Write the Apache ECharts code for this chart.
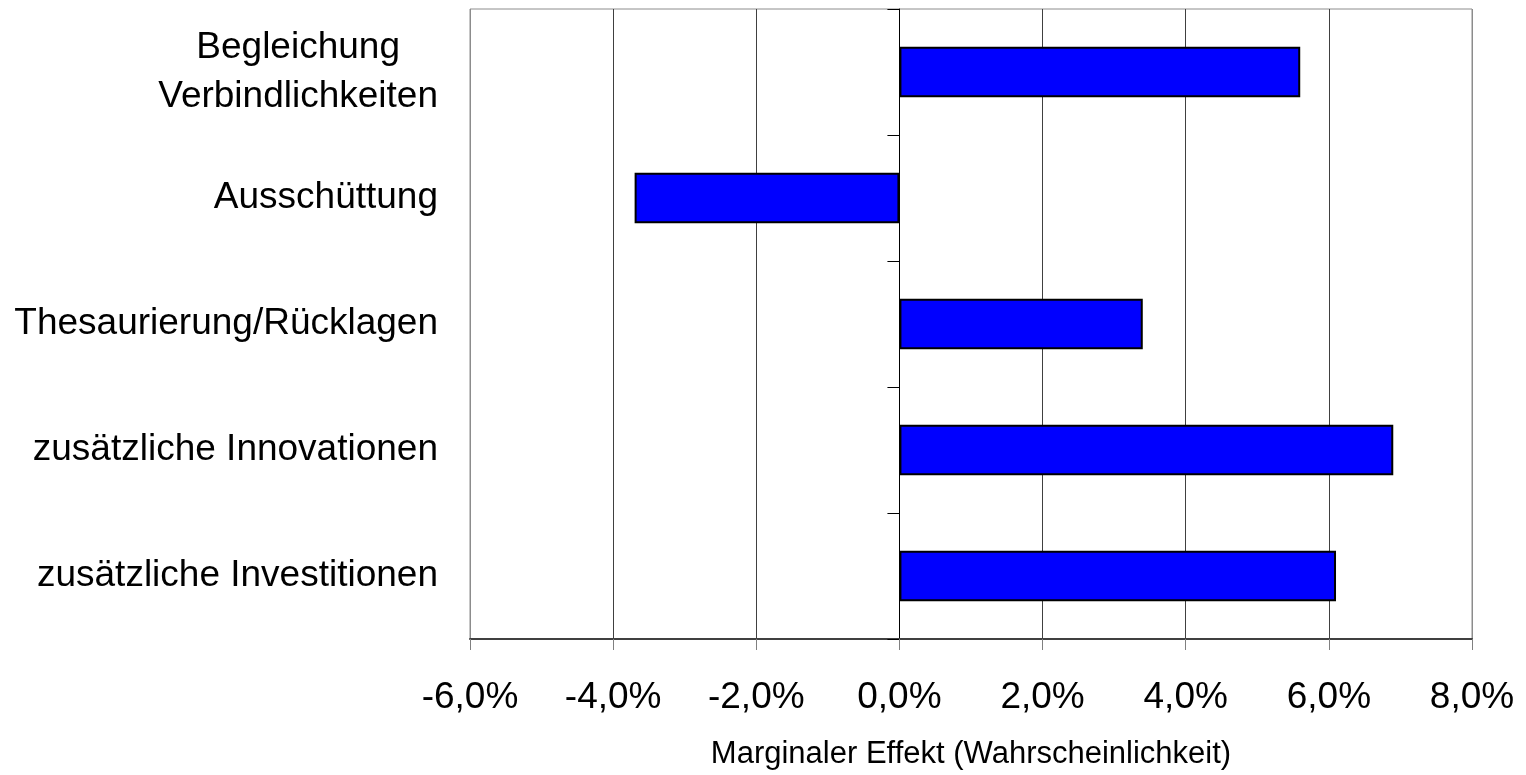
<!DOCTYPE html>
<html>
<head>
<meta charset="utf-8">
<script src="https://cdn.jsdelivr.net/npm/echarts@6/dist/echarts.min.js"></script>
<style>
  html, body { margin: 0; padding: 0; background: #fff; }
  #chart { width: 1526px; height: 775px; }
</style>
</head>
<body>
<div id="chart"></div>
<script>
// Categories, top to bottom
const categories = [
  'Begleichung\nVerbindlichkeiten',
  'Ausschüttung',
  'Thesaurierung/Rücklagen',
  'zusätzliche Innovationen',
  'zusätzliche Investitionen'
];
// Marginal effects (as fractions)
const values = [0.056, -0.037, 0.034, 0.069, 0.061];
// X axis range / ticks
const xMin = -0.06;
const xMax = 0.08;
const xStep = 0.02;
const axisTitle = 'Marginaler Effekt (Wahrscheinlichkeit)';

const FONT = "'Liberation Sans', Arial, sans-serif";

function pct(v) {
  let s = (v * 100).toFixed(1);
  if (s === '-0.0') s = '0.0';
  return s.replace('.', ',') + '%';
}

const chart = echarts.init(document.getElementById('chart'), null, { renderer: 'canvas' });

chart.setOption({
  animation: false,
  backgroundColor: '#ffffff',
  grid: {
    left: 470, right: 54, top: 9, bottom: 133,
    show: true, borderColor: '#8c8c8c', borderWidth: 1,
    containLabel: false
  },
  xAxis: {
    type: 'value',
    min: xMin, max: xMax, interval: xStep,
    axisLine: { show: true, onZero: false, lineStyle: { color: '#404040', width: 2 } },
    axisTick: { show: true, length: 11, lineStyle: { color: '#808080', width: 1 } },
    splitLine: {
      show: true,
      lineStyle: {
        color: ['#8c8c8c', '#404040', '#404040', '#000000', '#404040', '#404040', '#404040', '#8c8c8c'],
        width: 1
      }
    },
    axisLabel: {
      formatter: pct,
      fontSize: 37, color: '#000', fontFamily: FONT, margin: 40
    },
    name: axisTitle,
    nameLocation: 'middle',
    nameGap: 100,
    nameTextStyle: { fontSize: 31, color: '#000', fontFamily: FONT }
  },
  yAxis: [
    {
      type: 'category',
      data: categories,
      inverse: true,
      axisLine: { show: false, onZero: false },
      axisTick: { show: false },
      splitLine: { show: false },
      axisLabel: {
        margin: 32,
        formatter: function (v) {
          return v.split('\n').map(function (l) { return '{c|' + l + '}'; }).join('\n');
        },
        rich: {
          c: { fontSize: 37, color: '#000', fontFamily: FONT, align: 'center', lineHeight: 49 }
        }
      }
    },
    {
      type: 'category',
      data: categories,
      inverse: true,
      position: 'left',
      axisLine: { show: true, onZero: true, lineStyle: { color: '#000', width: 1 } },
      axisTick: { show: true, length: 12, lineStyle: { color: '#000', width: 1 } },
      axisLabel: { show: false },
      splitLine: { show: false }
    }
  ],
  series: [{
    type: 'bar',
    yAxisIndex: 0,
    data: values,
    barWidth: '40%',
    itemStyle: { color: '#0000ff', borderColor: '#000', borderWidth: 2 }
  }]
});
</script>
</body>
</html>
